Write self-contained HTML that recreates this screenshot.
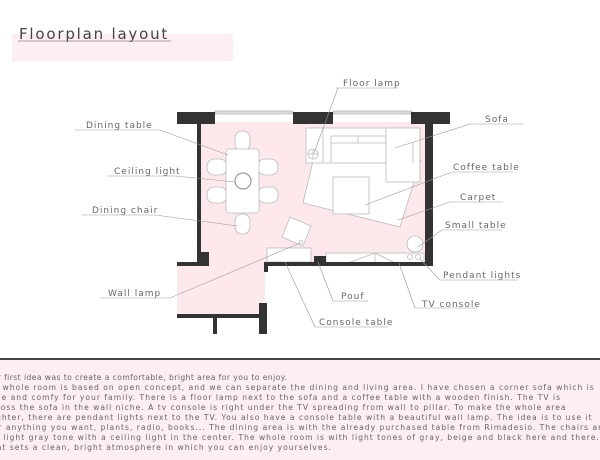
<!DOCTYPE html>
<html><head><meta charset="utf-8"><style>
html,body{margin:0;padding:0;background:#fff;width:600px;height:460px;overflow:hidden}
svg{display:block}
text{font-family:"DejaVu Sans","Liberation Sans",sans-serif;fill:#666;letter-spacing:1px}
</style></head><body>
<svg width="600" height="460" viewBox="0 0 600 460" xmlns="http://www.w3.org/2000/svg">
<!-- title -->
<rect x="12" y="34" width="221" height="27" fill="#fdeef1"/>
<text x="19" y="39" font-size="15" style="fill:#444;letter-spacing:1.8px">Floorplan layout</text>
<line x1="18" y1="41" x2="171" y2="41" stroke="#888" stroke-width="0.7"/>

<!-- floor -->
<rect x="199" y="122" width="228" height="142" fill="#fde9ec"/>
<rect x="177" y="264" width="88" height="51" fill="#fde9ec"/>
<rect x="199" y="250" width="20" height="16" fill="#fde9ec"/>

<g fill="none" stroke="#bbb" stroke-width="0.8">
<polygon points="318,140 421,160 400,227 303,203" fill="#fff"/>
<rect x="306" y="128" width="114" height="35" fill="#fff"/>
<line x1="323" y1="128" x2="323" y2="163"/>
<rect x="331" y="136" width="82" height="7"/>
<line x1="358" y1="136" x2="358" y2="143"/><line x1="386" y1="136" x2="386" y2="143"/>
<line x1="331" y1="143" x2="331" y2="163"/>
<rect x="386" y="128" width="34" height="54" fill="#fff"/>
<line x1="413" y1="143" x2="413" y2="163"/>
<circle cx="313" cy="154" r="5"/><line x1="308" y1="154" x2="318" y2="154"/><line x1="313" y1="149" x2="313" y2="159"/>
<rect x="333" y="177" width="36" height="37" fill="#fff"/>
<rect x="235" y="131" width="15" height="20" rx="7" fill="#fff"/>
<rect x="235" y="214" width="15" height="20" rx="7" fill="#fff"/>
<rect x="207" y="159" width="20" height="16" rx="7" fill="#fff"/>
<rect x="207" y="187" width="20" height="16" rx="7" fill="#fff"/>
<rect x="258" y="159" width="20" height="16" rx="7" fill="#fff"/>
<rect x="258" y="187" width="20" height="16" rx="7" fill="#fff"/>
<rect x="226" y="149" width="33" height="64" rx="3" fill="#fff"/>
<circle cx="243" cy="181" r="8" stroke="#999" stroke-width="1.2"/>
<polygon points="290,217 311,226 303,246 282,237" fill="#fff"/>
<rect x="267" y="248" width="44" height="14" fill="#fff"/>
<rect x="326" y="253" width="98" height="10" fill="#fff"/>
<line x1="348" y1="263" x2="375" y2="253"/><line x1="375" y1="253" x2="395" y2="263"/><line x1="375" y1="253" x2="375" y2="263"/>
<circle cx="415" cy="244" r="8" fill="#fff"/>
<circle cx="410" cy="257" r="2.5"/><circle cx="418" cy="257" r="2.5"/>
<circle cx="301" cy="242" r="1.8"/>
</g>

<g fill="#ddd" stroke="#aaa" stroke-width="0.6">
<rect x="215" y="111" width="78" height="3"/>
<rect x="333" y="111" width="79" height="3"/>
</g>

<g fill="#333">
<rect x="177" y="112" width="38" height="12"/>
<rect x="293" y="112" width="40" height="12"/>
<rect x="411" y="112" width="39" height="12"/>
<rect x="425" y="112" width="8" height="154"/>
<rect x="197" y="122" width="4" height="132"/>
<rect x="197" y="252" width="12" height="14"/>
<rect x="177" y="262" width="32" height="4"/>
<rect x="264" y="262" width="169" height="4"/>
<rect x="314" y="256" width="12" height="8"/>
<rect x="264" y="262" width="4" height="10"/>
<rect x="259" y="303" width="8" height="31"/>
<rect x="177" y="314" width="90" height="4"/>
<rect x="213" y="314" width="4" height="20"/>
</g>

<g stroke="#999" stroke-width="0.6" fill="none">
<polyline points="336,88 398,88"/><polyline points="338,88 314,153"/>
<polyline points="75,130 160,130 228,155"/>
<polyline points="107,176 175,176 235,182"/>
<polyline points="82,215 155,215 238,226"/>
<polyline points="100,298 170,298 300,243"/>
<polyline points="333,301 368,301"/><polyline points="333,301 318,262"/>
<polyline points="315,327 388,327"/><polyline points="315,327 285,262"/>
<polyline points="415,308 477,308"/><polyline points="415,308 399,263"/>
<polyline points="440,280 518,280"/><polyline points="440,280 420,259"/>
<polyline points="442,230 502,230"/><polyline points="442,230 418,247"/>
<polyline points="450,202 503,202"/><polyline points="450,202 398,220"/>
<polyline points="452,172 513,172"/><polyline points="452,172 365,205"/>
<polyline points="470,124 523,124"/><polyline points="470,124 395,148"/>
</g>
<g font-size="9">
<text x="343" y="86">Floor lamp</text>
<text x="86" y="128">Dining table</text>
<text x="114" y="174">Ceiling light</text>
<text x="92" y="213">Dining chair</text>
<text x="108" y="296">Wall lamp</text>
<text x="341" y="299">Pouf</text>
<text x="319" y="325">Console table</text>
<text x="422" y="307">TV console</text>
<text x="443" y="278">Pendant lights</text>
<text x="445" y="228">Small table</text>
<text x="460" y="200">Carpet</text>
<text x="453" y="170">Coffee table</text>
<text x="485" y="122">Sofa</text>
</g>

<rect x="0" y="360" width="600" height="100" fill="#fdeef1"/>
<rect x="0" y="358" width="600" height="2" fill="#444"/>
<g font-size="7.6" style="letter-spacing:0.55px;fill:#888">
<text x="-14" y="380" textLength="302" lengthAdjust="spacing">Our first idea was to create a comfortable, bright area for you to enjoy.</text>
<text x="-18" y="390">The whole room is based on open concept, and we can separate the dining and living area. I have chosen a corner sofa which is</text>
<text x="-17" y="400">large and comfy for your family. There is a floor lamp next to the sofa and a coffee table with a wooden finish. The TV is</text>
<text x="-14" y="410">across the sofa in the wall niche. A tv console is right under the TV spreading from wall to pillar. To make the whole area</text>
<text x="-17" y="420">brighter, there are pendant lights next to the TV. You also have a console table with a beautiful wall lamp. The idea is to use it</text>
<text x="-11" y="430">for anything you want, plants, radio, books... The dining area is with the already purchased table from Rimadesio. The chairs are</text>
<text x="-9" y="440">in light gray tone with a ceiling light in the center. The whole room is with light tones of gray, beige and black here and there.</text>
<text x="-13" y="450">that sets a clean, bright atmosphere in which you can enjoy yourselves.</text>
</g>
</svg>
</body></html>
